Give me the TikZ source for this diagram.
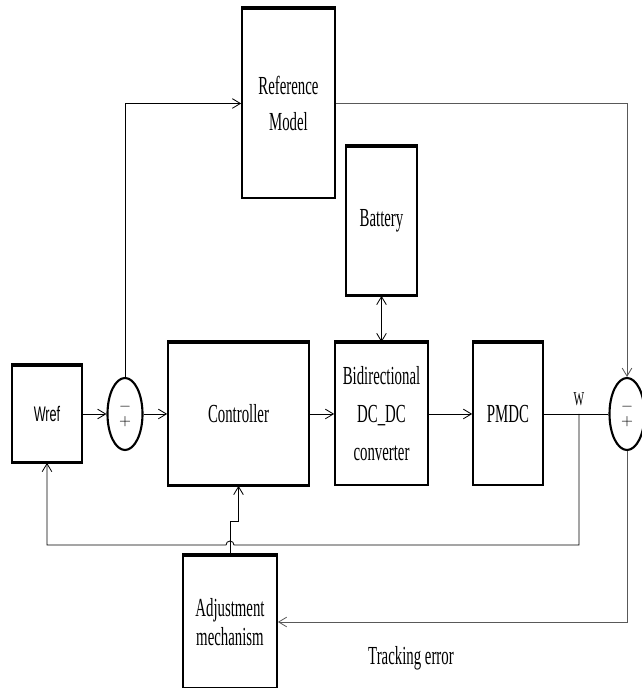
\documentclass[tikz,border=0pt]{standalone}
\usepackage{fontspec}
\setmainfont[FakeStretch=0.57]{Liberation Serif}
\newfontfamily\wreffont[FakeStretch=0.6]{Liberation Sans}
\usetikzlibrary{arrows.meta, positioning, shapes.geometric, calc}

\begin{document}
\begin{tikzpicture}[x=0.025cm, y=0.025cm,
    >={Straight Barb[length=2mm, width=2.4mm]},
    font=\fontsize{18.5}{25}\selectfont]
  \tikzset{
    blk/.style={draw, line width=1.2pt, inner sep=2pt, align=center},
    sumj/.style={draw, ellipse, line width=1.5pt, inner sep=0pt,
      minimum width=0.875cm, minimum height=1.8cm, align=center,
      font=\wreffont\fontsize{11}{12}\selectfont},
    sig/.style ={->, line width=0.6pt},
    sigg/.style={->, line width=0.6pt, black!65},
    wire/.style={line width=0.6pt},
  }
  \useasboundingbox (0,0) rectangle (641,688);
  % Blocks
  \node[blk, minimum width=70*0.025cm, minimum height=96*0.025cm,
        font=\wreffont\fontsize{15}{16}\selectfont] (wref) at (47,274) {Wref};
  \node[sumj] (sum1) at (125,274) {$-$\\[-1pt]$+$};
  \node[blk, minimum width=141*0.025cm, minimum height=142*0.025cm]
        (ctrl) at (238.5,274) {Controller};
  \node[blk, minimum width=93*0.025cm, minimum height=142*0.025cm,
        font=\fontsize{18.5}{27}\selectfont]
        (bidir) at (381.5,274) {Bidirectional\\DC\_DC\\converter};
  \node[blk, minimum width=71*0.025cm, minimum height=148*0.025cm]
        (batt) at (381.5,467) {Battery};
  \node[blk, minimum width=70*0.025cm, minimum height=142*0.025cm]
        (pmdc) at (508,274) {PMDC};
  \node[sumj] (sum2) at (627,274) {$-$\\[-1pt]$+$};
  \node[blk, minimum width=93*0.025cm, minimum height=189*0.025cm]
        (refm) at (288.5,584.5) {Reference\\Model};
  \node[blk, minimum width=94*0.025cm, minimum height=132*0.025cm,
        font=\fontsize{18.5}{21}\selectfont]
        (adj) at (230,66) {Adjustment\\mechanism};
  % heavier top (and some bottom) edges
  \foreach \b in {wref,ctrl,bidir,batt,pmdc,refm,adj}
    \draw[line width=2.4pt] (\b.north west) -- (\b.north east);
  \foreach \b in {wref,ctrl,batt}
    \draw[line width=2pt] (\b.south west) -- (\b.south east);
  % Labels
  \coordinate (wtap) at (579,274);
  \node[font=\fontsize{14}{15}\selectfont, above=2pt of wtap] (wlbl) {W};
  \node (track) at (411,30) {Tracking error};
  % Forward path
  \draw[sig] (wref) -- (sum1);
  \draw[sig] (sum1) -- (ctrl);
  \draw[sig] (ctrl) -- (bidir);
  \draw[sig] (bidir) -- (pmdc);
  \draw[wire] (pmdc) -- (sum2);
  \draw[<->, line width=0.6pt] (batt) -- (bidir);
  % Reference model
  \draw[sig] (sum1.north) |- (refm.west);
  \draw[sigg] (refm.east) -| (sum2.north);
  % Speed feedback, with a hop over the adjustment line
  \coordinate (fbr) at (579,143);
  \coordinate (fbl) at (47,143);
  \coordinate (hopr) at (234,143);
  \draw[sig] (wtap) -- (fbr) -- (hopr) arc (0:180:4) -- (fbl) -- (wref.south);
  % Adjustment
  \draw[sig] (adj.north) -- ++(0,34) -| (ctrl.south);
  \draw[sigg] (sum2.south) |- (adj.east);
\end{tikzpicture}
\end{document}
